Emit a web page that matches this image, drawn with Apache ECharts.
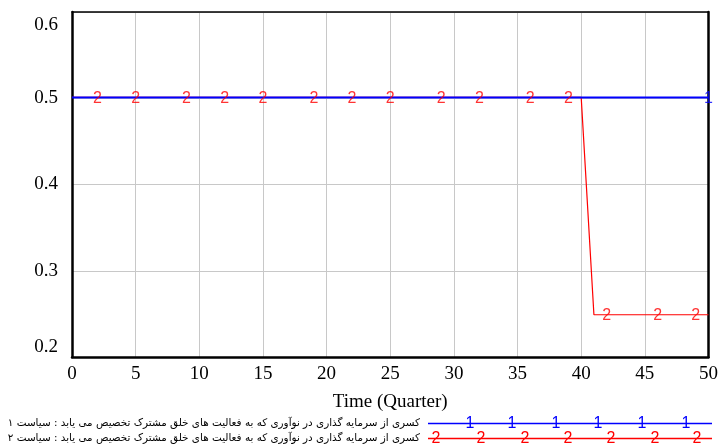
<!DOCTYPE html>
<html>
<head>
<meta charset="utf-8">
<script src="https://cdn.jsdelivr.net/npm/echarts@6/dist/echarts.min.js"></script>
<style>html,body{margin:0;padding:0;background:#fff}#c{width:721px;height:447px}</style>
</head>
<body>
<div id="c"></div>
<script>
const time = [0,1,2,3,4,5,6,7,8,9,10,11,12,13,14,15,16,17,18,19,20,21,22,23,24,25,26,27,28,29,30,31,32,33,34,35,36,37,38,39,40,41,42,43,44,45,46,47,48,49,50];
const policy1 = [0.501,0.501,0.501,0.501,0.501,0.501,0.501,0.501,0.501,0.501,0.501,0.501,0.501,0.501,0.501,0.501,0.501,0.501,0.501,0.501,0.501,0.501,0.501,0.501,0.501,0.501,0.501,0.501,0.501,0.501,0.501,0.501,0.501,0.501,0.501,0.501,0.501,0.501,0.501,0.501,0.501,0.501,0.501,0.501,0.501,0.501,0.501,0.501,0.501,0.501,0.501];
const policy2 = [0.501,0.501,0.501,0.501,0.501,0.501,0.501,0.501,0.501,0.501,0.501,0.501,0.501,0.501,0.501,0.501,0.501,0.501,0.501,0.501,0.501,0.501,0.501,0.501,0.501,0.501,0.501,0.501,0.501,0.501,0.501,0.501,0.501,0.501,0.501,0.501,0.501,0.501,0.501,0.501,0.501,0.249,0.249,0.249,0.249,0.249,0.249,0.249,0.249,0.249,0.249];
const markers1 = [50];
const markers2 = [2,5,9,12,15,19,22,25,29,32,36,39,42,46,49];
const xTicks = [0,5,10,15,20,25,30,35,40,45,50];
const yTicks = [0.2,0.3,0.4,0.5,0.6];
const xTitle = 'Time (Quarter)';
const legend1 = 'کسری از سرمایه گذاری در نوآوری که به فعالیت های خلق مشترک تخصیص می یابد : سیاست ۱';
const legend2 = 'کسری از سرمایه گذاری در نوآوری که به فعالیت های خلق مشترک تخصیص می یابد : سیاست ۲';

const BLUE = '#0000ff', RED = '#ff0000';
const chart = echarts.init(document.getElementById('c'));
const pair = (xs, ys) => xs.map((x, i) => [x, ys[i]]);
const mk = (xs, ys) => xs.map(x => [x, ys[time.indexOf(x)]]);

const graphic = [];
const legRows = [{y: 423.5, text: legend1, color: BLUE, lab: '1', marks: [470,512,556,598,642,686]},
                 {y: 438.5, text: legend2, color: RED, lab: '2', marks: [436,481,525,568,611,655,697]}];
legRows.forEach(r => {
  graphic.push({type: 'text', x: 420, y: r.y, style: {text: r.text, font: '10.4px "DejaVu Sans"', fill: '#000', align: 'right', verticalAlign: 'middle'}});
  graphic.push({type: 'line', shape: {x1: 428, y1: r.y, x2: 712, y2: r.y}, style: {stroke: r.color, lineWidth: 1.3}});
  r.marks.forEach(m => graphic.push({type: 'text', x: m, y: r.y + 0.5, style: {text: r.lab, font: '16px "Liberation Sans"', fill: r.color, align: 'center', verticalAlign: 'middle'}}));
});

const frameAxisX = {type: 'value', min: 0, max: 50, interval: 5, position: 'top', show: true,
  axisLine: {show: true, onZero: false, lineStyle: {color: '#000', width: 1.5}}, axisTick: {show: false}, axisLabel: {show: false}, splitLine: {show: false}};
const frameAxisY = {type: 'value', min: 0.2, max: 0.6, interval: 0.1, position: 'right', show: true,
  axisLine: {show: true, onZero: false, lineStyle: {color: '#000', width: 2.5}}, axisTick: {show: false}, axisLabel: {show: false}, splitLine: {show: false}};

chart.setOption({
  animation: false,
  grid: {left: 72, right: 11, top: 12, bottom: 90},
  xAxis: [{
    type: 'value', min: 0, max: 50, interval: 5,
    name: xTitle, nameLocation: 'middle', nameGap: 36,
    nameTextStyle: {fontFamily: 'Liberation Serif', fontSize: 19, color: '#000'},
    axisLine: {onZero: false, lineStyle: {color: '#000', width: 2.5}},
    axisTick: {show: false},
    axisLabel: {fontFamily: 'Liberation Serif', fontSize: 19, color: '#000', margin: 8},
    splitLine: {lineStyle: {color: '#c8c8c8', width: 1}}
  }, frameAxisX],
  yAxis: [{
    type: 'value', min: 0.2, max: 0.6, interval: 0.1,
    axisLine: {show: true, onZero: false, lineStyle: {color: '#000', width: 2.5}},
    axisTick: {show: false},
    axisLabel: {
      fontFamily: 'Liberation Serif', fontSize: 19, color: '#000', margin: 14,
      formatter: v => {
        const s = v.toFixed(1);
        if (Math.abs(v - 0.6) < 1e-6) return '{t|' + s + '}';
        if (Math.abs(v - 0.2) < 1e-6) return '{b|' + s + '}';
        return s;
      },
      rich: {
        t: {fontFamily: 'Liberation Serif', fontSize: 19, color: '#000', padding: [26, 0, 0, 0]},
        b: {fontFamily: 'Liberation Serif', fontSize: 19, color: '#000', padding: [0, 0, 20, 0]}
      }
    },
    splitLine: {lineStyle: {color: '#c8c8c8', width: 1}}
  }, frameAxisY],
  series: [
    {type: 'line', data: pair(time, policy2), showSymbol: false, lineStyle: {color: RED, width: 1.2}, z: 2},
    {type: 'line', data: pair(time, policy1), showSymbol: false, lineStyle: {color: BLUE, width: 2}, z: 3},
    {type: 'scatter', data: mk(markers2, policy2), symbolSize: 1, itemStyle: {color: 'rgba(0,0,0,0)'}, z: 4,
     label: {show: true, position: 'inside', offset: [0, 1], formatter: '2', color: RED, fontFamily: 'Liberation Sans', fontSize: 16}},
    {type: 'scatter', data: mk(markers1, policy1), symbolSize: 1, itemStyle: {color: 'rgba(0,0,0,0)'}, z: 5,
     label: {show: true, position: 'inside', offset: [0, 1], formatter: '1', color: BLUE, fontFamily: 'Liberation Sans', fontSize: 16}}
  ],
  graphic: graphic
});
</script>
</body>
</html>
